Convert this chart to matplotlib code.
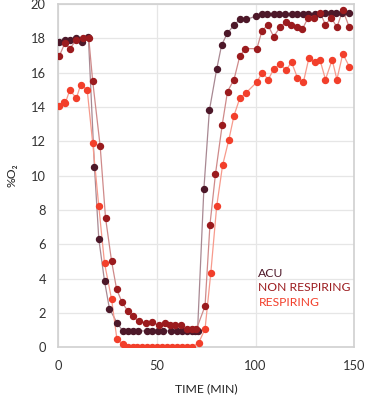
import matplotlib
matplotlib.use("Agg")
import matplotlib.pyplot as plt

plt.rcParams['font.family'] = ['Lato', 'DejaVu Sans']

acu_t = [0.4, 3.2, 5.8, 8.8, 11.9, 15.2, 18.3, 20.5, 23.4, 25.9, 29.7, 32.6, 35.1, 37.9, 40.6,
         45.1, 47.6, 50.3, 52.9, 57.3, 60.0, 62.6, 65.1, 67.6, 69.3, 70.6, 73.8, 76.6, 80.3,
         82.8, 85.7, 89.0, 92.0, 95.4, 100.4, 103.3, 106.0, 109.2, 112.0, 115.0, 118.5, 121.0,
         124.0, 126.5, 130.0, 132.5, 135.5, 138.5, 141.0, 144.0, 147.6]
acu_v = [17.8, 17.9, 17.9, 18.0, 17.8, 18.1, 10.5, 6.3, 3.85, 2.24, 1.43, 0.95, 0.95, 0.95, 0.95,
         0.95, 0.95, 0.95, 0.95, 0.95, 0.95, 0.95, 0.95, 0.95, 0.95, 0.95, 9.2, 13.8, 16.2,
         17.6, 18.3, 18.75, 19.1, 19.1, 19.3, 19.4, 19.4, 19.4, 19.4, 19.4, 19.4, 19.4,
         19.4, 19.4, 19.4, 19.4, 19.5, 19.5, 19.5, 19.5, 19.5]

non_t = [0.4, 3.2, 5.8, 9.1, 12.4, 15.4, 17.4, 21.2, 23.9, 27.0, 29.5, 32.2, 35.3, 38.0, 40.8,
         44.6, 47.5, 50.8, 54.1, 56.6, 59.4, 62.0, 65.2, 67.6, 70.0, 74.4, 76.9, 79.7, 83.1,
         85.8, 89.1, 92.0, 94.8, 100.7, 103.2, 106.2, 109.2, 112.4, 115.4, 118.0, 121.0, 123.8,
         126.7, 129.7, 132.7, 135.5, 138.5, 141.3, 144.3, 147.6]
non_v = [16.95, 17.7, 17.4, 17.9, 18.0, 18.0, 15.5, 11.7, 7.55, 5.0, 3.4, 2.63, 2.09, 1.8, 1.5,
         1.43, 1.47, 1.27, 1.39, 1.3, 1.27, 1.27, 1.04, 1.04, 1.04, 2.4, 7.15, 10.1, 12.95,
         14.9, 15.6, 16.95, 17.4, 17.4, 18.4, 18.8, 18.1, 18.64, 18.95, 18.75, 18.64, 18.54,
         19.2, 19.2, 19.5, 18.8, 19.2, 18.64, 19.65, 18.64]

res_t = [0.4, 2.8, 3.6, 5.8, 9.1, 11.3, 14.6, 17.4, 20.5, 23.4, 27.0, 29.7, 32.6, 35.1, 37.6,
         40.1, 42.6, 45.1, 47.6, 50.1, 52.6, 55.1, 57.6, 60.1, 62.6, 65.1, 67.8, 71.2, 74.4,
         77.3, 80.3, 83.3, 86.5, 89.1, 92.0, 95.0, 100.7, 103.4, 106.5, 109.2, 112.4, 115.4,
         118.3, 121.3, 124.3, 127.1, 130.0, 132.7, 135.5, 138.9, 141.3, 144.3, 147.6]
res_v = [14.05, 14.3, 14.25, 15.0, 14.5, 15.3, 15.0, 11.9, 8.2, 4.9, 2.78, 0.46, 0.17, 0.0, 0.0,
         0.0, 0.0, 0.0, 0.0, 0.0, 0.0, 0.0, 0.0, 0.0, 0.0, 0.0, 0.0, 0.27, 1.06,
         4.3, 8.2, 10.6, 12.1, 13.5, 14.5, 14.8, 15.45, 16.0, 15.6, 16.2, 16.5, 16.15,
         16.6, 15.7, 15.45, 16.85, 16.6, 16.75, 15.6, 16.75, 15.6, 17.1, 16.35]

names = ["ACU", "NON RESPIRING", "RESPIRING"]
colors = ["#4d1829", "#9b1b1e", "#f23f2b"]
line_colors = ["#a88892", "#cf8a8a", "#f79a8c"]

fig = plt.figure(figsize=(3.65, 4.0), dpi=100)
ax = fig.add_axes([0.160, 0.132, 0.810, 0.858])

series = [(acu_t, acu_v), (non_t, non_v), (res_t, res_v)]
for (t, v), c, lc in zip(series, colors, line_colors):
    ax.plot(t, v, color=lc, lw=0.9, zorder=2)
    ax.plot(t, v, linestyle='none', marker='o', ms=4.3, color=c, mec=c, zorder=3)

ax.set_xlim(0, 150)
ax.set_ylim(0, 20)
ax.set_xticks([0, 50, 100, 150])
ax.set_yticks(range(0, 21, 2))
ax.grid(True, color="#e6e6e6", lw=0.9)
ax.set_axisbelow(True)
for s in ax.spines.values():
    s.set_color("#d0d0d0")
    s.set_linewidth(1.2)
ax.tick_params(length=0, labelsize=9.3, colors="#333333")
ax.tick_params(axis='y', pad=9)
ax.tick_params(axis='x', pad=9)
ax.set_xlabel("TIME (MIN)", fontsize=8.8, color="#222222", labelpad=8)
ax.set_ylabel("%O₂", fontsize=8.8, color="#222222", labelpad=10)

for i, (n, c) in enumerate(zip(names, colors)):
    ax.text(101.5, 4.3 - i * 0.85, n, color=c, fontsize=8.7, va='center', ha='left')

fig.savefig("out.png", dpi=100)
